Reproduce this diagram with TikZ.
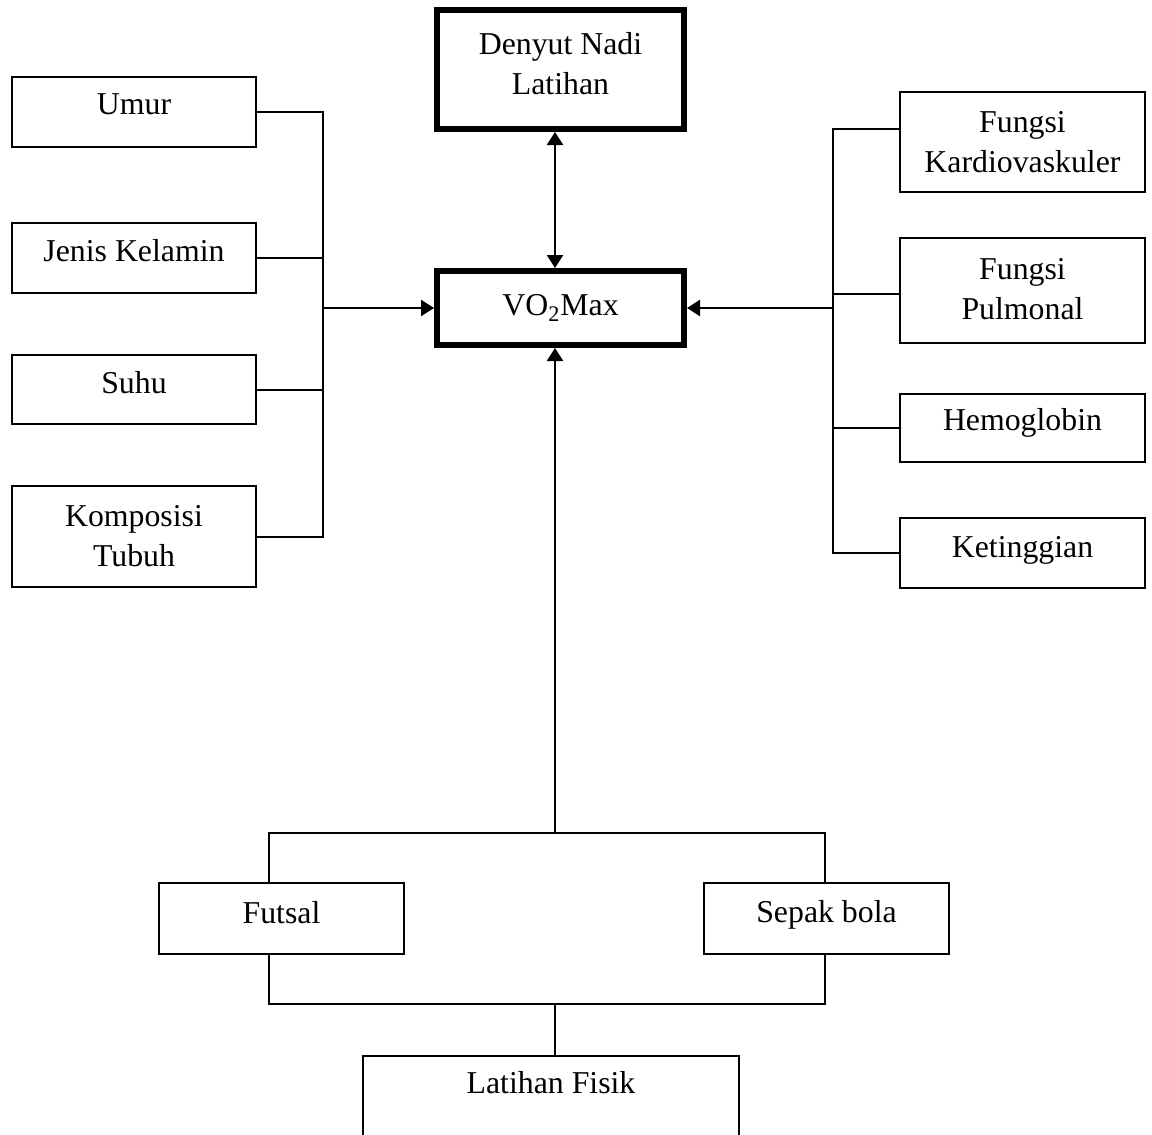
\documentclass[tikz,border=0pt]{standalone}
\usepackage{fontspec}
\setmainfont{Liberation Serif}
\usetikzlibrary{arrows.meta}
\begin{document}
\begin{tikzpicture}[x=0.5pt,y=-0.5pt,
  every node/.style={font=\fontsize{15.9pt}{20pt}\selectfont},
  box/.style={draw=black,line width=1pt,rectangle,inner sep=0pt,align=center,fill=white},
  mainbox/.style={box,line width=3pt},
  conn/.style={line width=1pt},
  arr/.style={line width=1.2pt,-{Triangle[length=6.5pt,width=8pt]}},
  darr/.style={line width=1.2pt,{Triangle[length=6.5pt,width=8pt]}-{Triangle[length=6.5pt,width=8pt]}}]
\useasboundingbox (0,0) rectangle (1152,1135);
\clip (0,0) rectangle (1152,1135);
\fill[white] (0,0) rectangle (1152,1135);

% central boxes
\node[mainbox,minimum width=123.5pt,minimum height=59.5pt,text depth=6pt] (dn) at (560.5,69.5) {Denyut Nadi\\Latihan};
\node[mainbox,minimum width=123.5pt,minimum height=37pt] (vo) at (560.5,308) {VO\textsubscript{2}Max};

% left boxes
\node[box,minimum width=122pt,minimum height=35pt,text depth=8pt] (umur) at (134,112) {Umur};
\node[box,minimum width=122pt,minimum height=35pt,text depth=8pt] (jenis) at (134,258) {Jenis Kelamin};
\node[box,minimum width=122pt,minimum height=34.5pt,text depth=7pt] (suhu) at (134,389.5) {Suhu};
\node[box,minimum width=122pt,minimum height=50.5pt] (kompo) at (134,536.5) {Komposisi\\Tubuh};

% right boxes
\node[box,minimum width=122.5pt,minimum height=50pt] (kardio) at (1022.5,142) {Fungsi\\Kardiovaskuler};
\node[box,minimum width=122.5pt,minimum height=52.5pt,text depth=2pt] (pulmo) at (1022.5,290.5) {Fungsi\\Pulmonal};
\node[box,minimum width=122.5pt,minimum height=34pt,text depth=8.5pt] (hemo) at (1022.5,428) {Hemoglobin};
\node[box,minimum width=122.5pt,minimum height=35pt,text depth=6.5pt] (keting) at (1022.5,553) {Ketinggian};

% bottom boxes
\node[box,minimum width=122.5pt,minimum height=35.5pt,text depth=6pt] (futsal) at (281.5,918.5) {Futsal};
\node[box,minimum width=122.5pt,minimum height=35.5pt,text depth=7.5pt] (sepak) at (826.5,918.5) {Sepak bola};
\node[box,minimum width=188pt,anchor=north,inner ysep=6pt,text height=12.5pt,text depth=60pt] (latihan) at (551,1055) {Latihan Fisik};

% helper coordinates
\coordinate (mid) at (555,0);
\coordinate (lb) at (323,0);
\coordinate (rb) at (833,0);
\coordinate (fl) at (269,0);
\coordinate (sr) at (825,0);
\coordinate (tb) at (555,833);
\coordinate (bb) at (555,1004);
\coordinate (kc) at ([yshift=6.5pt]kardio.west);

% top double arrow
\draw[darr] (vo.north -| mid) -- (dn.south -| mid);

% left bus
\draw[conn] (umur.east) -- (umur.east -| lb) -- (kompo.east -| lb) -- (kompo.east);
\draw[conn] (jenis.east) -- (jenis.east -| lb);
\draw[conn] (suhu.east) -- (suhu.east -| lb);
\draw[arr] (vo.west -| lb) -- (vo.west);

% right bus
\draw[conn] (kc) -- (kc -| rb) -- (keting.west -| rb) -- (keting.west);
\draw[conn] (pulmo.west) ++(0,3) coordinate (pc) -- (pc -| rb);
\draw[conn] (hemo.west) -- (hemo.west -| rb);
\draw[arr] (vo.east -| rb) -- (vo.east);

% bottom
\draw[arr] (tb) -- (vo.south -| tb);
\draw[conn] (futsal.north -| fl) -- (fl |- tb) -- (sr |- tb) -- (sepak.north -| sr);
\draw[conn] (futsal.south -| fl) -- (fl |- bb) -- (sr |- bb) -- (sepak.south -| sr);
\draw[conn] (bb) -- (latihan.north -| bb);
\end{tikzpicture}
\end{document}
